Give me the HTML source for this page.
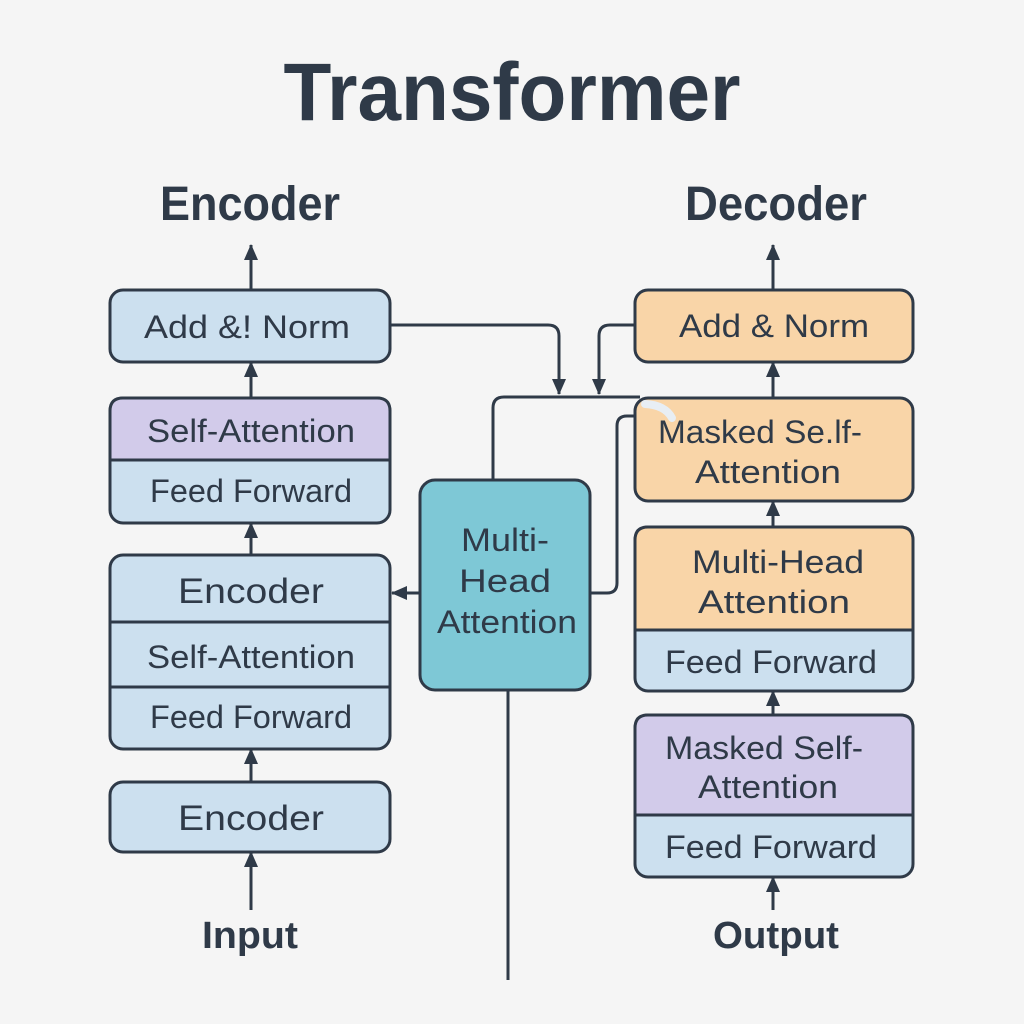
<!DOCTYPE html>
<html><head><meta charset="utf-8"><style>
html,body{margin:0;padding:0;background:#f5f5f5;}
svg{display:block;}
text{font-family:"Liberation Sans","DejaVu Sans",sans-serif;fill:#2f3a48;}
</style></head><body>
<svg width="1024" height="1024" viewBox="0 0 1024 1024" xmlns="http://www.w3.org/2000/svg">
<defs>
<marker id="a2" markerWidth="16" markerHeight="14" refX="15" refY="7" orient="auto" markerUnits="userSpaceOnUse" viewBox="0 0 16 14">
<path d="M0,0 L16,7 L0,14 z" fill="#2f3a48"/>
</marker>
</defs>
<rect width="1024" height="1024" fill="#f5f5f5"/>
<text x="512" y="120" font-size="82" font-weight="bold" text-anchor="middle" textLength="457" lengthAdjust="spacingAndGlyphs">Transformer</text>
<text x="250" y="220" font-size="48" font-weight="bold" text-anchor="middle" textLength="180" lengthAdjust="spacingAndGlyphs">Encoder</text>
<text x="776" y="220" font-size="48" font-weight="bold" text-anchor="middle" textLength="182" lengthAdjust="spacingAndGlyphs">Decoder</text>

<g stroke="#2f3a48" stroke-width="3" fill="none">
<line x1="251" y1="290" x2="251" y2="245" marker-end="url(#a2)"/>
<line x1="251" y1="398" x2="251" y2="362" marker-end="url(#a2)"/>
<line x1="251" y1="555" x2="251" y2="523" marker-end="url(#a2)"/>
<line x1="251" y1="782" x2="251" y2="749" marker-end="url(#a2)"/>
<line x1="251" y1="910" x2="251" y2="852" marker-end="url(#a2)"/>
<line x1="773" y1="290" x2="773" y2="245" marker-end="url(#a2)"/>
<line x1="773" y1="398" x2="773" y2="362" marker-end="url(#a2)"/>
<line x1="773" y1="527" x2="773" y2="501" marker-end="url(#a2)"/>
<line x1="773" y1="715" x2="773" y2="691" marker-end="url(#a2)"/>
<line x1="773" y1="910" x2="773" y2="877" marker-end="url(#a2)"/>
<path d="M390,325 H548 Q559,325 559,336 V394" marker-end="url(#a2)"/>
<path d="M635,325 H610 Q599,325 599,336 V394" marker-end="url(#a2)"/>
<path d="M493,480 V408 Q493,397 504,397 H640"/>
<path d="M590,593 H607 Q617,593 617,583 V426 Q617,416 627,416 H650"/>
<line x1="420" y1="593" x2="392" y2="593" marker-end="url(#a2)"/>
<line x1="508" y1="690" x2="508" y2="980"/>
</g>

<g stroke="#2f3a48" stroke-width="3">
<rect x="110" y="290" width="280" height="72" rx="13" fill="#cce0ef"/>
<rect x="110" y="398" width="280" height="125" rx="13" fill="#cce0ef"/>
<path d="M110,460 V411 Q110,398 123,398 H377 Q390,398 390,411 V460 Z" fill="#d2cbea"/>
<rect x="110" y="555" width="280" height="194" rx="13" fill="#cce0ef"/>
<line x1="110" y1="622" x2="390" y2="622"/>
<line x1="110" y1="687" x2="390" y2="687"/>
<rect x="110" y="782" width="280" height="70" rx="13" fill="#cce0ef"/>
<rect x="420" y="480" width="170" height="210" rx="15" fill="#7ec8d6"/>
<rect x="635" y="290" width="278" height="72" rx="13" fill="#f9d5a8"/>
<rect x="635" y="398" width="278" height="103" rx="13" fill="#f9d5a8"/>
<path d="M645,404 Q665,405 672,418" stroke="#e8eef4" stroke-width="8" fill="none" stroke-linecap="round"/>
<rect x="635" y="527" width="278" height="164" rx="13" fill="#cce0ef"/>
<path d="M635,630 V540 Q635,527 648,527 H900 Q913,527 913,540 V630 Z" fill="#f9d5a8"/>
<rect x="635" y="715" width="278" height="162" rx="13" fill="#cce0ef"/>
<path d="M635,815 V728 Q635,715 648,715 H900 Q913,715 913,728 V815 Z" fill="#d2cbea"/>
</g>

<g font-size="32" text-anchor="middle" lengthAdjust="spacingAndGlyphs">
<text x="247" y="338" textLength="206" lengthAdjust="spacingAndGlyphs">Add &amp;! Norm</text>
<text x="251" y="442" textLength="208" lengthAdjust="spacingAndGlyphs">Self-Attention</text>
<text x="251" y="502" textLength="202" lengthAdjust="spacingAndGlyphs">Feed Forward</text>
<text x="251" y="603" font-size="35" textLength="146" lengthAdjust="spacingAndGlyphs">Encoder</text>
<text x="251" y="668" textLength="208" lengthAdjust="spacingAndGlyphs">Self-Attention</text>
<text x="251" y="728" textLength="202" lengthAdjust="spacingAndGlyphs">Feed Forward</text>
<text x="251" y="830" font-size="35" textLength="146" lengthAdjust="spacingAndGlyphs">Encoder</text>
<text x="250" y="948" font-size="38" font-weight="bold" textLength="96" lengthAdjust="spacingAndGlyphs">Input</text>
<text x="505" y="551" textLength="88" lengthAdjust="spacingAndGlyphs">Multi-</text>
<text x="505" y="592" textLength="92" lengthAdjust="spacingAndGlyphs">Head</text>
<text x="507" y="633" textLength="140" lengthAdjust="spacingAndGlyphs">Attention</text>
<text x="774" y="337" textLength="190" lengthAdjust="spacingAndGlyphs">Add &amp; Norm</text>
<text x="760" y="443" textLength="204" lengthAdjust="spacingAndGlyphs">Masked Se.lf-</text>
<text x="768" y="483" textLength="146" lengthAdjust="spacingAndGlyphs">Attention</text>
<text x="778" y="573" textLength="172" lengthAdjust="spacingAndGlyphs">Multi-Head</text>
<text x="774" y="613" textLength="152" lengthAdjust="spacingAndGlyphs">Attention</text>
<text x="771" y="673" textLength="212" lengthAdjust="spacingAndGlyphs">Feed Forward</text>
<text x="764" y="759" textLength="198" lengthAdjust="spacingAndGlyphs">Masked Self-</text>
<text x="768" y="798" textLength="140" lengthAdjust="spacingAndGlyphs">Attention</text>
<text x="771" y="858" textLength="212" lengthAdjust="spacingAndGlyphs">Feed Forward</text>
<text x="776" y="948" font-size="38" font-weight="bold" textLength="126" lengthAdjust="spacingAndGlyphs">Output</text>
</g>
</svg>
</body></html>
